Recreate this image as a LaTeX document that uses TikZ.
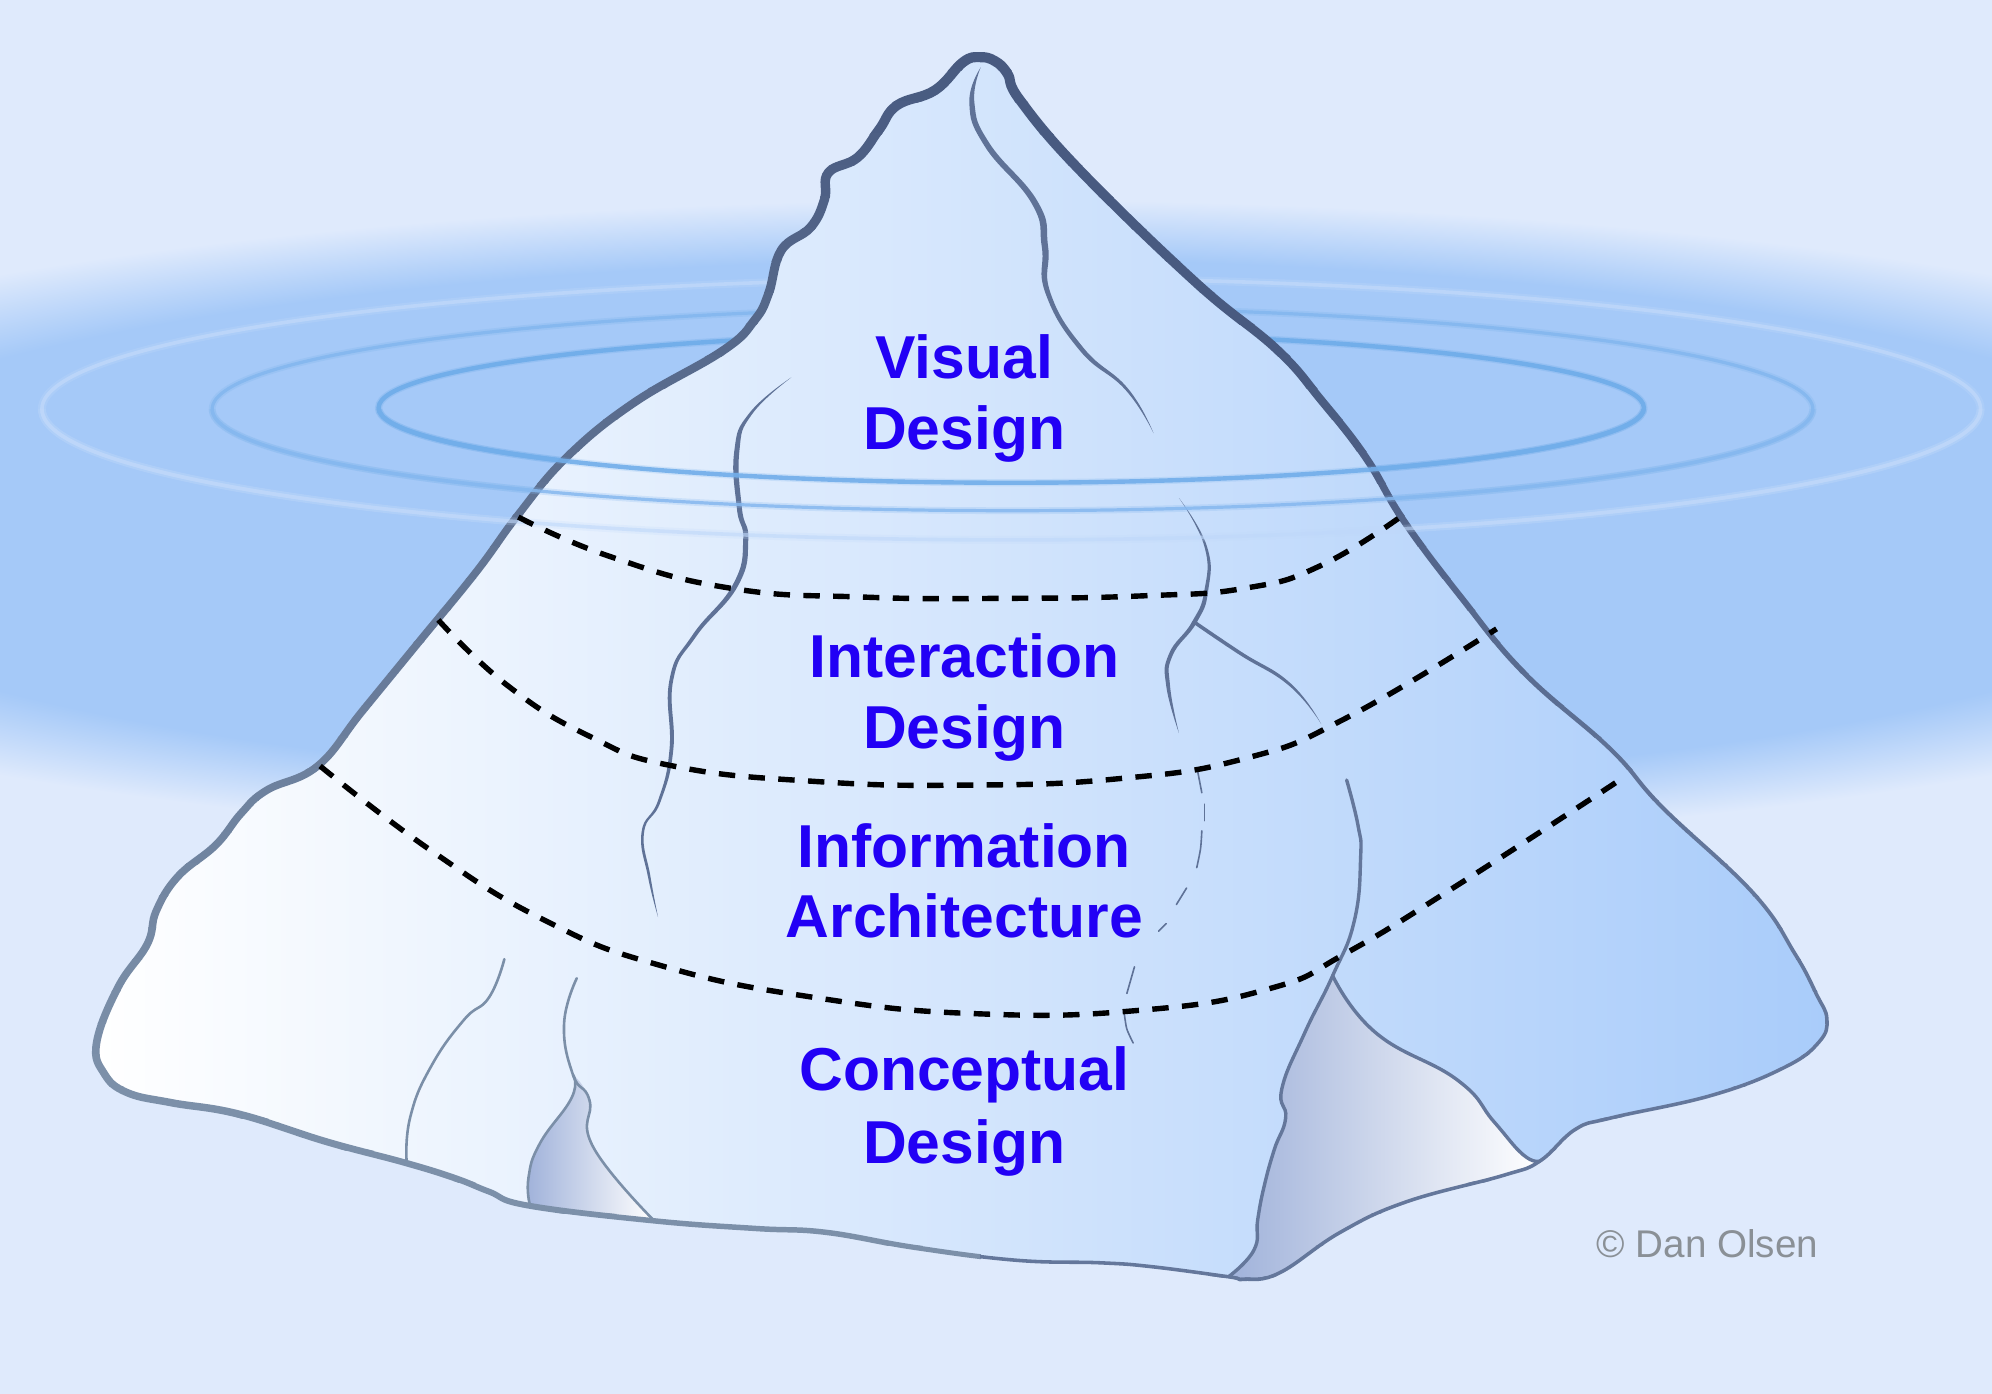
\documentclass[tikz,border=0pt]{standalone}
\usepackage{fontspec}
\setmainfont{Liberation Sans}
\definecolor{bgc}{HTML}{DFEAFC}
\definecolor{bandc}{HTML}{A5C9F8}
\definecolor{bergr}{HTML}{A9CCFA}
\definecolor{txtc}{HTML}{2200F5}
\definecolor{topline}{HTML}{485A80}
\definecolor{leftline}{HTML}{7C90A9}
\definecolor{rightline}{HTML}{64779B}
\definecolor{crackc}{HTML}{5F7297}
\definecolor{crackl}{HTML}{7B8FA8}
\definecolor{facetc}{HTML}{A0B2DA}
\definecolor{ripa}{HTML}{72AEEA}
\definecolor{ripb}{HTML}{86B8EF}
\definecolor{ripc}{HTML}{BFD8FA}
\definecolor{creditc}{HTML}{8A9096}
\pgfdeclareradialshading{bandfade}{\pgfpoint{0bp}{0bp}}{color(0bp)=(bandc); color(20.4bp)=(bandc); color(25bp)=(bgc); color(50bp)=(bgc)}
\newcommand{\bergpath}{plot[smooth cycle,tension=.7] coordinates {
(771,45)(783,48)(793,58)(803,79)(850,134)(942,223)(1005,275)(1040,315)(1075,360)(1105,410)(1150,470)(1200,530)(1268,590)(1308,635)(1380,703)(1413,751)(1430,783)(1438,802)(1432,820)(1405,840)(1348,862)(1268,880)(1240,889)(1212,914)(1184,925)(1107,946)(1055,970)(1007,1002)(979,1007)(967,1005)(906,997)(866,994)(800,992)(720,982)(650,970)(595,967)(515,961)(416,949)(385,938)(357,927)(318,915)(258,899)(188,877)(135,868)(100,860)(82,845)(76,821)(93,777)(116,743)(123,717)(140,690)(170,665)(190,640)(210,622)(250,603)(285,560)(330,505)(375,450)(408,405)(446,360)(499,317)(569,276)(594,252)(605,231)(615,197)(638,179)(649,157)(652,136)(675,124)(692,102)(706,83)(736,71)(758,49)}}
\tikzset{
 crk/.style={fill=crackc,draw=none},
 thincrk/.style={draw=crackl,line width=1.3pt,line cap=round,line join=round},
 bigedge/.style={draw=rightline,line width=1.7pt,line cap=round,line join=round},
 thindash/.style={draw=crackc,line width=.8pt,line cap=round},
 layer/.style={draw=black,line width=2.7pt,dash pattern=on 8.2pt off 6.7pt},
 title/.style={text=txtc,font=\fontsize{30.3}{35.8}\selectfont\bfseries,align=center,inner sep=0pt,anchor=base},
 smooth8/.style={smooth,tension=.8},
 declare function={
  wl(\y)=(\y<400)?(8-2*(\y-40)/360):((\y<860)?6:((\y<1000)?(6-2.2*(\y-860)/140):3.8));
  wr(\y)=(\y<250)?(8-0.8*(\y-40)/210):((\y<600)?(7.2-3.9*(\y-250)/350):((\y<800)?(3.3-0.5*(\y-600)/200):2.8));
 }
}
\begin{document}
\begin{tikzpicture}[x=.63520pt,y=-.63520pt]
\useasboundingbox (0,0) rectangle (1568,1097);
\begin{scope}
\clip (0,0) rectangle (1568,1097);
\fill[bgc] (0,0) rectangle (1568,1097);
\shade[shading=bandfade] (784,413) ellipse [x radius=1230,y radius=256];
% ripples, behind the berg
\draw[ripc,line width=4pt,opacity=.3] (796,322) ellipse [x radius=763,y radius=103];
\draw[ripc,line width=1.8pt,opacity=.8] (796,322) ellipse [x radius=763,y radius=103];
\draw[ripb,line width=3.4pt,opacity=.35] (797,322) ellipse [x radius=630,y radius=80];
\draw[ripb,line width=1.6pt] (797,322) ellipse [x radius=630,y radius=80];
\draw[ripa,line width=3.6pt,opacity=.3] (796,321) ellipse [x radius=498,y radius=59];
\draw[ripa,line width=2.2pt] (796,321) ellipse [x radius=498,y radius=59];
\end{scope}
% berg body
\shade[left color=white,right color=bergr] \bergpath;
% facets
\shade[left color=facetc,right color=white]
 plot[smooth8] coordinates {(1049,768)(1027,813)(1009,857)(1012,880)(1003,905)(995,934)(990,960)(987,984)(967,1005)}
 -- plot[smooth8] coordinates {(967,1005)(979,1007)(1007,1002)(1055,970)(1107,946)(1184,925)(1212,914)}
 -- plot[smooth8] coordinates {(1212,914)(1199,909)(1176,883)(1147,850)(1083,813)(1049,768)} -- cycle;
\shade[left color=facetc,right color=white]
 plot[smooth8] coordinates {(451,846)(450,864)(425,900)(416,927)(417,948)}
 -- (515,961) -- plot[smooth8] coordinates {(515,961)(467,903)(464,866)(451,846)} -- cycle;
% cracks
\fill[crk] plot[smooth8] coordinates {(772,53)(763,81)(775,115)(812,160)(820,194)(823,231)(850,276)(886,307)(908,341)}
 -- plot[smooth8] coordinates {(908,341)(888,306)(853,274)(827,231)(825,194)(817,159)(779,113)(767,81)(772,53)} -- cycle;
\fill[crk] plot[smooth8] coordinates {(623,297)(590,325)(578,355)(580,400)(585,425)(577,460)(545,500)(527,535)(527,590)(518,630)(505,655)(510,690)(518,722)}
 -- plot[smooth8] coordinates {(518,722)(512,690)(507,655)(520,631)(530,590)(530,535)(548,501)(581,461)(589,425)(584,400)(582,355)(592,326)(623,297)} -- cycle;
\fill[crk] plot[smooth8] coordinates {(928,392)(948,430)(948,465)(938,490)(920,515)(918,540)(928,577)}
 -- plot[smooth8] coordinates {(928,577)(921,540)(923,516)(942,490)(951,465)(950,430)(928,392)} -- cycle;
\fill[crk] plot[smooth8] coordinates {(938,490)(975,515)(1015,540)(1040,570)}
 -- plot[smooth8] coordinates {(1040,570)(1016,538)(977,513)(940,488)} -- cycle;
% dashed crack
\draw[thindash] plot[smooth] coordinates {(942.5,606)(946,624)};
\draw[thindash] (948,633) -- (948,646);
\draw[thindash] plot[smooth] coordinates {(946,654)(945,668)(942,683)};
\draw[thindash] (934,699) -- (926,712);
\draw[thindash] (918,727) -- (912,733);
\draw[thindash] (893,761) -- (887,782);
\draw[thindash] plot[smooth] coordinates {(885,798)(887,810)(892,821)};
% lower-left cracks
\draw[thincrk] plot[smooth8] coordinates {(397,755)(385,785)(365,803)(339,840)(323,879)(320,913)};
\draw[thincrk] plot[smooth8] coordinates {(454,770)(444,806)(451,846)(464,866)(467,903)(515,961)};
\draw[thincrk] plot[smooth8] coordinates {(451,846)(450,864)(425,900)(416,927)(417,948)};
% big facet edges
\draw[bigedge] plot[smooth8] coordinates {(1060,614)(1069,650)(1071,675)(1066,725)(1049,768)(1027,813)(1009,857)(1012,880)(1003,905)(995,934)(990,960)(987,984)(967,1005)};
\draw[bigedge] plot[smooth8] coordinates {(1049,768)(1083,813)(1147,850)(1176,883)(1199,909)(1212,914)};
% outline with varying weight
\foreach \i in {0,...,39}{
 \pgfmathsetmacro{\ya}{30+\i*25}
 \pgfmathsetmacro{\yb}{\ya+25.5}
 \pgfmathsetmacro{\ym}{\ya+12.5}
 \pgfmathsetmacro{\wL}{wl(\ym)*.6352}
 \pgfmathsetmacro{\wR}{wr(\ym)*.6352}
 \pgfmathtruncatemacro{\pL}{min(100,max(0,(\ym-40)/8))}
 \pgfmathtruncatemacro{\pR}{min(100,max(0,(\ym-280)/4))}
 \begin{scope}
  \clip (-10,\ya) rectangle (772,\yb);
  \draw[leftline!\pL!topline,line width=\wL pt,line join=round] \bergpath;
 \end{scope}
 \begin{scope}
  \clip (771.5,\ya) rectangle (1580,\yb);
  \draw[rightline!\pR!topline,line width=\wR pt,line join=round] \bergpath;
 \end{scope}
}
% front halves of ripples
\begin{scope}
\clip (0,322) rectangle (1568,480);
\draw[ripc,line width=4pt,opacity=.2] (796,322) ellipse [x radius=763,y radius=103];
\draw[ripc,line width=1.8pt,opacity=.6] (796,322) ellipse [x radius=763,y radius=103];
\draw[ripb,line width=3.4pt,opacity=.25] (797,322) ellipse [x radius=630,y radius=80];
\draw[ripb,line width=1.6pt,opacity=.85] (797,322) ellipse [x radius=630,y radius=80];
\draw[ripa,line width=3.6pt,opacity=.2] (796,321) ellipse [x radius=498,y radius=59];
\draw[ripa,line width=2.2pt,opacity=.9] (796,321) ellipse [x radius=498,y radius=59];
\end{scope}
% layer boundaries
\draw[layer] plot[smooth8] coordinates {(408,407)(480,438)(575,463)(680,470)(790,471)(900,469)(980,463)(1040,445)(1105,405)};
\draw[layer] plot[smooth8] coordinates {(345,488)(400,540)(465,580)(530,603)(640,615)(760,618)(880,613)(980,597)(1060,565)(1178,495)};
\draw[layer] plot[smooth8] coordinates {(252,603)(340,670)(430,725)(520,760)(640,785)(770,798)(900,795)(1000,778)(1060,750)(1150,695)(1278,612)};
% labels
\node[title] (visual) at (759,298) {Visual};
\node[title] (visuald) at (759,354) {Design};
\node[title] (inter) at (759,533) {Interaction};
\node[title] (interd) at (759,589) {Design};
\node[title] (info) at (759,683) {Information};
\node[title] (infoa) at (759,738) {Architecture};
\node[title] (concept) at (759,858) {Conceptual};
\node[title] (conceptd) at (759,916) {Design};
\node[text=creditc,font=\fontsize{19.3}{22}\selectfont,anchor=base,inner sep=0pt] (credit) at (1344,990) {© Dan Olsen};
\end{tikzpicture}
\end{document}
